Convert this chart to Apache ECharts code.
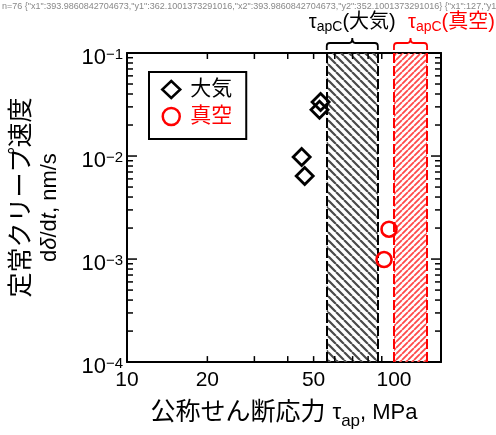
<!DOCTYPE html>
<html>
<head>
<meta charset="utf-8">
<script src="https://cdn.jsdelivr.net/npm/echarts@6/dist/echarts.min.js"></script>
<style>html,body{margin:0;padding:0;background:#fff}#c{width:496px;height:435px}</style>
</head>
<body>
<div id="c"></div>
<script>
// ---- data ----
const airStress = [53.1, 52.6, 45.1, 46.3];
const airRate = [0.0335, 0.0281, 0.0098, 0.0064];
const vacStress = [95.8, 91.8];
const vacRate = [0.00195, 0.00099];
const airRegion = [56, 87];     // tau_apC (air)
const vacRegion = [100, 133];   // tau_apC (vacuum)
const xLabelValues = [10, 20, 50, 100];
const xMajorTicks = [10, 100];
const xMinorTicks = [20, 30, 40, 50, 60, 70, 80, 90];
const yMajorTicks = [0.0001, 0.001, 0.01, 0.1];
const yMinorTicks = [2e-4,3e-4,4e-4,5e-4,6e-4,7e-4,8e-4,9e-4,2e-3,3e-3,4e-3,5e-3,6e-3,7e-3,8e-3,9e-3,2e-2,3e-2,4e-2,5e-2,6e-2,7e-2,8e-2,9e-2];
const seriesNames = ['大気', '真空'];
const regionLabels = ['大気', '真空'];

const FONT = "'Liberation Sans', 'Noto Sans CJK JP', sans-serif";
const XMIN = 10, XMAX = 150, YMIN = 1e-4, YMAX = 0.1;
let dbg = '';

function hatch(color, period, slash, lw) {
  const c = document.createElement('canvas');
  c.width = c.height = period;
  const g = c.getContext('2d');
  g.strokeStyle = color; g.lineWidth = lw; g.beginPath();
  for (let k = -1; k <= 1; k++) {
    if (slash) { g.moveTo(k * period, period); g.lineTo(k * period + period, 0); }
    else { g.moveTo(k * period, 0); g.lineTo(k * period + period, period); }
  }
  g.stroke();
  return c;
}
const blackHatch = { image: hatch('#4a4a4a', 8, false, 2.2), repeat: 'repeat' };
const redHatch = { image: hatch('#ff4a4a', 6, true, 1.8), repeat: 'repeat' };

const chart = echarts.init(document.getElementById('c'));

function xAxisDef(pos, labels) {
  return {
    type: 'log', logBase: 10, min: XMIN, max: XMAX, position: pos,
    axisLine: { show: true, lineStyle: { color: '#000', width: 2 } },
    axisTick: { show: false },
    axisLabel: labels ? { show: true, customValues: labels, color: '#000', fontSize: 21, fontFamily: FONT, margin: 8 } : { show: false },
    splitLine: { show: false }, minorTick: { show: false }
  };
}
function yAxisDef(pos, labels) {
  return {
    type: 'log', logBase: 10, min: YMIN, max: YMAX, position: pos,
    axisLine: { show: true, lineStyle: { color: '#000', width: 2 } },
    axisTick: { show: false },
    axisLabel: labels ? {
      show: true, customValues: labels, margin: 4, color: '#000', fontFamily: FONT,
      formatter: v => '{b|10}{s|−' + Math.round(-Math.log10(v)) + '}',
      rich: { b: { fontSize: 22, fontFamily: FONT, color: '#000', lineHeight: 30, padding: [10, 0, 0, 0] },
              s: { fontSize: 15, fontFamily: FONT, color: '#000', lineHeight: 30, padding: [4, 0, 0, 0] } }
    } : { show: false },
    splitLine: { show: false }, minorTick: { show: false }
  };
}

const xs = [xAxisDef('bottom', xLabelValues), xAxisDef('top', null)];
xs[0].name = '{c|公称せん断応力 }{l|τ}{sub|ap}{l|, MPa}';
xs[0].nameLocation = 'middle';
xs[0].nameGap = 24;
xs[0].nameTextStyle = {
  fontSize: 25, fontFamily: FONT, color: '#000', lineHeight: 30,
  rich: { c: { fontSize: 25, fontFamily: FONT, color: '#000', lineHeight: 30 },
          l: { fontSize: 22, fontFamily: FONT, color: '#000', lineHeight: 30 },
          sub: { fontSize: 17, fontFamily: FONT, color: '#000', lineHeight: 30, padding: [17, 0, 0, 0] } }
};
const ys = [yAxisDef('left', yMajorTicks), yAxisDef('right', null)];
ys[0].name = '{c|定常クリープ速度}\n{n|d}{i|δ}{n|/d}{i|t}{n|, nm/s}';
ys[0].nameLocation = 'middle';
ys[0].nameRotate = 90;
ys[0].nameGap = 63;
ys[0].nameTextStyle = {
  fontSize: 25, fontFamily: FONT, color: '#000', lineHeight: 28,
  rich: { c: { fontSize: 25, fontFamily: FONT, color: '#000', lineHeight: 28, padding: [0, 0, 0, 20] },
          n: { fontSize: 22, fontFamily: FONT, color: '#000', lineHeight: 28 },
          i: { fontSize: 22, fontFamily: FONT, color: '#000', fontStyle: 'italic', lineHeight: 28 } }
};

function braceRender(params, api) {
  const x0 = api.value(0), x1 = api.value(1);
  const p0 = api.coord([x0, YMAX]), p1 = api.coord([x1, YMAX]);
  const idx = params.dataIndex;
  const color = idx === 0 ? '#000' : '#ff0000';
  const a = p0[0], b = p1[0], m = (a + b) / 2;
  const yb = p0[1] - 3, yh = p0[1] - 10, yp = p0[1] - 15;
  const d = `M${a},${yb} L${a},${yh + 3} Q${a},${yh} ${a + 3},${yh} L${m - 3},${yh} Q${m},${yh} ${m},${yp} Q${m},${yh} ${m + 3},${yh} L${b - 3},${yh} Q${b},${yh} ${b},${yh + 3} L${b},${yb}`;
  const tx = idx === 0 ? m : a + 14;
  return {
    type: 'group',
    children: [
      { type: 'path', shape: { pathData: d }, style: { stroke: color, fill: null, lineWidth: 1.8 } },
      { type: 'text', x: tx, y: p0[1] - 31,
        style: {
          text: '{t|τ}{s|apC}{m|(' + regionLabels[idx] + ')}',
          align: idx === 0 ? 'center' : 'left', verticalAlign: 'middle', fill: color,
          rich: {
            t: { fontSize: 20, fontFamily: FONT, fill: color, lineHeight: 26 },
            s: { fontSize: 14, fontFamily: FONT, fill: color, lineHeight: 26, padding: [10, 0, 0, 0] },
            m: { fontSize: 20, fontFamily: FONT, fill: color, lineHeight: 26 }
          }
        } }
    ]
  };
}

// tick marks on all four sides, placed through the axes' scales (api.coord)
function ticksRender(params, api) {
  const out = [];
  const seg = (p, dx, dy) => out.push({ type: 'line',
    shape: { x1: p[0], y1: p[1], x2: p[0] + dx, y2: p[1] + dy },
    style: { stroke: '#000', fill: null, lineWidth: 1.5 } });
  xMajorTicks.forEach(v => { seg(api.coord([v, YMIN]), 0, -10); seg(api.coord([v, YMAX]), 0, 10); });
  xMinorTicks.forEach(v => { seg(api.coord([v, YMIN]), 0, -6); seg(api.coord([v, YMAX]), 0, 6); });
  yMajorTicks.forEach(v => { seg(api.coord([XMIN, v]), 10, 0); seg(api.coord([XMAX, v]), -10, 0); });
  yMinorTicks.forEach(v => { seg(api.coord([XMIN, v]), 6, 0); seg(api.coord([XMAX, v]), -6, 0); });
  dbg = 'n=' + out.length + ' ' + JSON.stringify(out[2].shape) + ' ' + JSON.stringify(out[30].shape);
  return { type: 'group', children: out };
}

const option = {
  animation: false,
  grid: { left: 125, right: 55, top: 53, bottom: 66 },
  xAxis: xs,
  yAxis: ys,
  legend: {
    left: 149, top: 72, orient: 'vertical',
    borderColor: '#000', borderWidth: 2, padding: [7, 14, 12, 12],
    itemWidth: 18, itemHeight: 17, itemGap: 6,
    itemStyle: { borderWidth: 2.5 },
    textStyle: { fontSize: 21, fontFamily: FONT, padding: [0, 0, 0, 5] },
    data: [ { name: seriesNames[0], textStyle: { color: '#000' } },
            { name: seriesNames[1], textStyle: { color: '#ff0000' } } ]
  },
  series: [
    {
      type: 'custom', name: 'ticks', clip: false,
      renderItem: ticksRender,
      encode: { x: [0, 1] },
      data: [[XMIN, XMAX]]
    },
    {
      name: seriesNames[0], type: 'scatter', symbol: 'diamond', symbolSize: 17,
      itemStyle: { color: 'rgba(255,255,255,0)', borderColor: '#000', borderWidth: 2.8, opacity: 1 },
      data: airStress.map((x, i) => [x, airRate[i]]), z: 5,
      markArea: { silent: true, itemStyle: { color: blackHatch, borderWidth: 0 },
        data: [[{ xAxis: airRegion[0] }, { xAxis: airRegion[1] }]] },
      markLine: { silent: true, symbol: 'none', label: { show: false },
        lineStyle: { color: '#000', type: [10, 3], width: 2 },
        data: [{ xAxis: airRegion[0] }, { xAxis: airRegion[1] }] }
    },
    {
      name: seriesNames[1], type: 'scatter', symbol: 'circle', symbolSize: 15,
      itemStyle: { color: 'rgba(255,255,255,0)', borderColor: '#ff0000', borderWidth: 2.6, opacity: 1 },
      data: vacStress.map((x, i) => [x, vacRate[i]]), z: 5,
      markArea: { silent: true, itemStyle: { color: redHatch, borderWidth: 0 },
        data: [[{ xAxis: vacRegion[0] }, { xAxis: vacRegion[1] }]] },
      markLine: { silent: true, symbol: 'none', label: { show: false },
        lineStyle: { color: '#ff0000', type: [10, 3], width: 2 },
        data: [{ xAxis: vacRegion[0] }, { xAxis: vacRegion[1] }] }
    },
    {
      type: 'custom', name: 'braces', clip: false, silent: true,
      renderItem: braceRender,
      encode: { x: [0, 1] },
      data: [[airRegion[0], airRegion[1]], [vacRegion[0], vacRegion[1]]]
    }
  ]
};
try {
  chart.setOption(option);
} catch (e) { dbg = 'ERR ' + e.message; }
chart.setOption({ graphic: [{ type: 'text', left: 2, top: 2, style: { text: dbg, fontSize: 9, fill: '#888' } }] });
</script>
</body>
</html>
